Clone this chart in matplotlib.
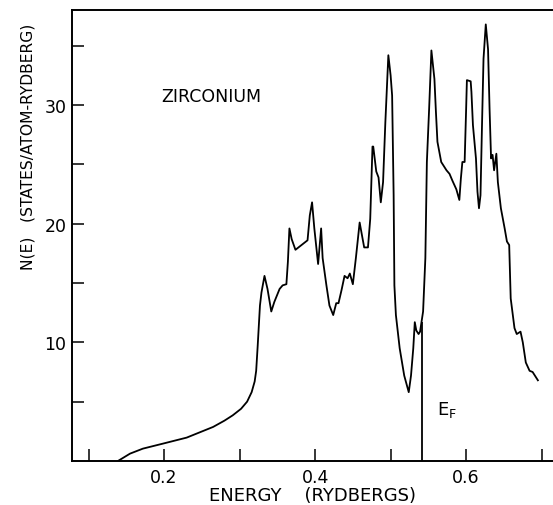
import numpy as np
import matplotlib
matplotlib.use("Agg")
import matplotlib.pyplot as plt

# density of states (energy in Ry, N(E) in states/atom-Ry)
energy = [0.139, 0.155, 0.172, 0.199, 0.230, 0.265, 0.280, 0.291, 0.302, 0.310,
          0.316, 0.320, 0.322, 0.324, 0.327, 0.329, 0.333, 0.337, 0.342, 0.346,
          0.353, 0.357, 0.362, 0.364, 0.366, 0.369, 0.374, 0.382, 0.390, 0.393,
          0.396, 0.399, 0.404, 0.408, 0.410, 0.415, 0.419, 0.424, 0.428, 0.431,
          0.435, 0.439, 0.443, 0.446, 0.450, 0.454, 0.459, 0.465, 0.470, 0.473,
          0.476, 0.477, 0.481, 0.484, 0.487, 0.490, 0.493, 0.497, 0.500, 0.502,
          0.504, 0.505, 0.507, 0.512, 0.518, 0.524, 0.527, 0.530, 0.532, 0.534,
          0.537, 0.539, 0.543, 0.546, 0.548, 0.551, 0.554, 0.558, 0.560, 0.562,
          0.567, 0.574, 0.578, 0.582, 0.587, 0.591, 0.593, 0.595, 0.598, 0.600,
          0.601, 0.606, 0.607, 0.609, 0.613, 0.615, 0.617, 0.619, 0.621, 0.623,
          0.626, 0.629, 0.631, 0.633, 0.635, 0.637, 0.640, 0.642, 0.646, 0.651,
          0.654, 0.657, 0.659, 0.664, 0.667, 0.672, 0.675, 0.679, 0.684, 0.688,
          0.695]
dos = [0.0, 0.62, 1.04, 1.47, 1.97, 2.87, 3.4, 3.85, 4.4, 5.0,
       5.8, 6.7, 7.6, 9.7, 13.1, 14.2, 15.6, 14.5, 12.6, 13.4,
       14.5, 14.8, 14.9, 16.8, 19.6, 18.7, 17.8, 18.2, 18.6, 20.7,
       21.8, 19.6, 16.6, 19.6, 17.1, 14.8, 13.1, 12.3, 13.3, 13.3,
       14.4, 15.6, 15.4, 15.8, 14.9, 17.1, 20.1, 18.0, 18.0, 20.4,
       26.5, 26.5, 24.4, 23.9, 21.8, 23.5, 28.5, 34.2, 32.5, 30.8,
       22.4, 14.8, 12.3, 9.5, 7.2, 5.8, 7.2, 9.5, 11.7, 11.0,
       10.7, 10.9, 12.6, 17.1, 25.2, 29.7, 34.6, 32.2, 29.4, 26.9,
       25.2, 24.5, 24.2, 23.6, 22.9, 22.0, 23.8, 25.2, 25.2, 29.7,
       32.1, 32.0, 31.1, 28.3, 25.5, 22.7, 21.3, 22.4, 28.3, 33.9,
       36.8, 34.7, 29.7, 25.5, 25.8, 24.5, 25.9, 23.5, 21.3, 19.6,
       18.5, 18.2, 13.7, 11.2, 10.7, 10.9, 10.0, 8.3, 7.6, 7.5,
       6.8]
fermi_energy = 0.541

x_ticks = [0.1, 0.2, 0.3, 0.4, 0.5, 0.6, 0.7]
x_labels = ["", "0.2", "", "0.4", "", "0.6", ""]
y_ticks = [5, 10, 15, 20, 25, 30, 35]
y_labels = ["", "10", "", "20", "", "30", ""]

plt.rcParams['font.family'] = ['DejaVu Sans']
plt.rcParams['mathtext.default'] = 'regular'

fig = plt.figure(figsize=(5.53, 5.06), dpi=100)
ax = fig.add_axes([0.130, 0.087, 0.870, 0.891])

ax.plot(energy, dos, color='black', linewidth=1.3)
ax.vlines(fermi_energy, 0, np.interp(fermi_energy, energy, dos),
          color='black', linewidth=1.3)

ax.set_xlim(0.078, 0.715)
ax.set_ylim(0, 38)
ax.spines['right'].set_visible(False)
for s in ['left', 'top', 'bottom']:
    ax.spines[s].set_linewidth(1.4)

ax.set_xticks(x_ticks)
ax.set_xticklabels(x_labels)
ax.set_yticks(y_ticks)
ax.set_yticklabels(y_labels)
ax.tick_params(direction='in', length=8.5, width=1.1, labelsize=12.5)
ax.tick_params(axis='x', pad=5)
ax.tick_params(axis='y', pad=4)

ax.set_xlabel("ENERGY    (RYDBERGS)", fontsize=13, labelpad=0)
ax.set_ylabel("N(E)   (STATES/ATOM-RYDBERG)", fontsize=11.2)
ax.yaxis.set_label_coords(-0.075, 0.70)

ax.text(0.1966, 30.8, "ZIRCONIUM", fontsize=12.5, ha='left', va='center')
ax.text(0.561, 4.4, r"$E_F$", fontsize=13, ha='left', va='center')

fig.savefig("out.png", dpi=100)
